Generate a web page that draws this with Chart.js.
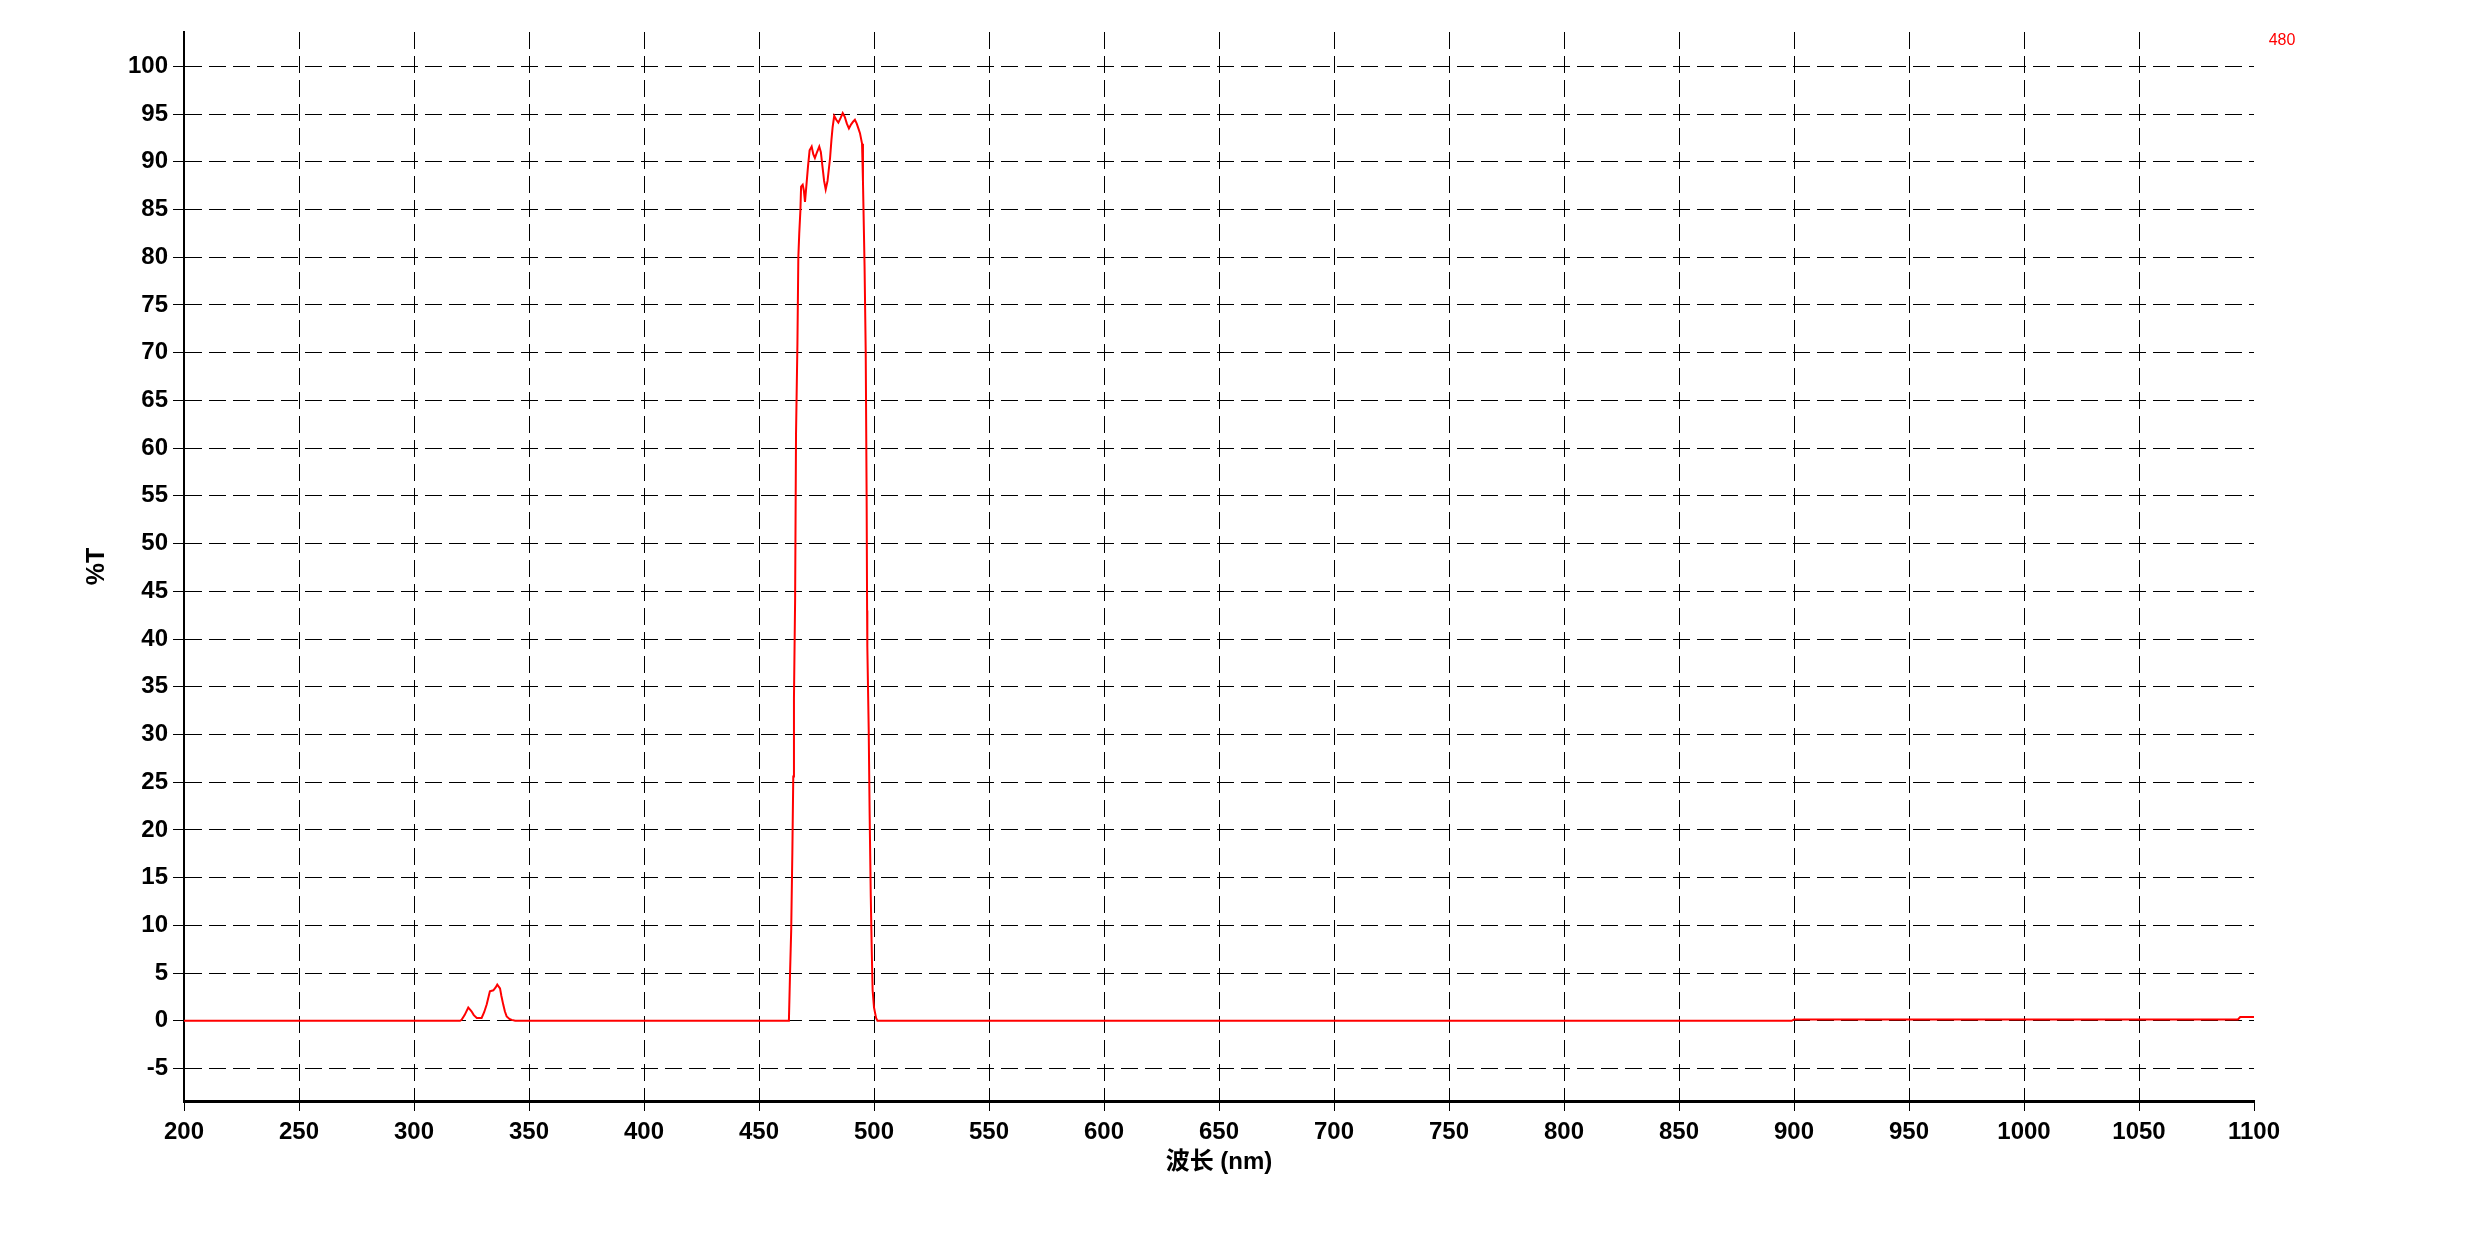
<!DOCTYPE html>
<html>
<head>
<meta charset="utf-8">
<script src="https://cdn.jsdelivr.net/npm/chart.js@4.4.0/dist/chart.umd.min.js"></script>
<style>
    body { margin: 0; background: #fff; }
    #wrap { width: 2467px; height: 1240px; position: relative; }
</style>
</head>
<body>
<div id="wrap"><canvas id="spectrum"></canvas></div>
<script>
// wavelength (nm) and transmission (%T)
const wavelengths = [
    200, 320, 320.7, 322, 323.6, 325, 326, 327.3, 329.4, 330.5, 331.6, 333, 334.5, 335.5, 336.2, 337.4,
    338, 338.8, 339.5, 340.3, 341.5, 342.5, 344,
    463, 463.5, 464.0, 464.5, 464.9, 465.2, 465.7, 466.1, 466.7, 467.1, 467.5, 468.0, 468.3,
    469, 469.5, 470, 470.6, 471.3, 472, 472.9, 473.6, 474.3, 475.2, 476.2, 476.9, 477.6, 478.3, 479,
    479.8, 480.9, 481.5, 482, 482.7, 483.6, 484.5, 485.5, 486.4, 487.3, 488.2, 489.1, 490, 490.9,
    491.7, 492.5, 493.2, 493.9, 494.8, 495.2, 495.9, 496.4, 496.8, 497.0, 497.1, 497.7, 498.1, 498.6,
    499.0, 499.4, 500.0, 500.9, 501.5,
    899, 900, 1093, 1094, 1100
];
const transmission = [
    0, 0, 0.1, 0.6, 1.4, 1.0, 0.6, 0.3, 0.3, 0.9, 1.7, 3.1, 3.2, 3.5, 3.8, 3.4,
    2.6, 1.7, 1.0, 0.45, 0.2, 0.1, 0,
    0, 5.0, 9.5, 17.6, 25.6, 33.8, 44.1, 61.5, 70.8, 80.0, 82.5, 84.9, 87.4,
    87.6, 87.0, 85.8, 87.5, 89.5, 91.2, 91.6, 90.8, 90.4, 91.0, 91.6, 91.0, 89.5, 88.0, 87.1,
    88.0, 90.4, 92.3, 93.6, 94.8, 94.4, 94.1, 94.6, 95.1, 94.7, 94.0, 93.5, 93.9, 94.2,
    94.4, 94.0, 93.5, 93.0, 91.9, 88.0, 79.0, 70.1, 54.8, 43.0, 39.2, 30.5, 21.7, 13.0,
    7.6, 3.2, 1.4, 0.3, 0,
    0, 0.15, 0.15, 0.4, 0.4
];
const yTicks = [-5, 0, 5, 10, 15, 20, 25, 30, 35, 40, 45, 50, 55, 60, 65, 70, 75, 80, 85, 90, 95, 100];
const xTitle = '波长 (nm)';
const yTitle = '%T';
const sampleName = '480';

const points = wavelengths.map((w, i) => ({ x: w, y: transmission[i] }));

const tickFont = { family: 'Arial, "Liberation Sans", sans-serif', size: 24, weight: 'bold' };

// axis titles and the sample tag, drawn after the chart
const titlesPlugin = {
    id: 'titles',
    afterDraw: (chart) => {
        const ctx = chart.ctx;
        const area = chart.chartArea;
        ctx.save();
        ctx.fillStyle = '#000';
        ctx.textAlign = 'center';
        ctx.textBaseline = 'middle';
        ctx.font = 'bold 24px Arial, "Liberation Sans", "Noto Sans CJK SC", sans-serif';
        ctx.fillText(xTitle, (area.left + area.right) / 2, 1162);

        ctx.translate(97, (area.top + area.bottom) / 2);
        ctx.rotate(-Math.PI / 2);
        ctx.font = 'bold 25px Arial, "Liberation Sans", sans-serif';
        ctx.fillText(yTitle, 0, 0);
        ctx.restore();

        ctx.save();
        ctx.fillStyle = '#ff0000';
        ctx.textAlign = 'center';
        ctx.textBaseline = 'middle';
        ctx.font = '16px Arial, "Liberation Sans", sans-serif';
        ctx.fillText(sampleName, 2282, 41);
        ctx.restore();
    }
};

new Chart('spectrum', {
    type: 'line',
    data: {
        datasets: [{
            data: points,
            borderColor: '#ff0000',
            borderWidth: 2,
            pointRadius: 0,
            tension: 0,
            fill: false
        }]
    },
    options: {
        responsive: true,
        maintainAspectRatio: false,
        animation: false,
        events: [],
        layout: {
            padding: { left: 0, top: 32, right: 213, bottom: 0 }
        },
        plugins: {
            legend: { display: false },
            tooltip: { enabled: false }
        },
        scales: {
            x: {
                type: 'linear',
                min: 200,
                max: 1100,
                afterFit: (scale) => { scale.height = 139; },
                ticks: {
                    stepSize: 50,
                    color: '#000',
                    font: tickFont,
                    padding: 7,
                    maxRotation: 0,
                    callback: (value) => String(value)
                },
                grid: {
                    color: (c) => (c.tick && c.tick.value === 1100) ? 'rgba(0,0,0,0)' : '#000',
                    lineWidth: 1,
                    tickLength: 10,
                    tickColor: '#000',
                    tickWidth: 1,
                    tickBorderDash: []
                },
                border: { display: true, color: '#000', width: 3, dash: [17, 7] }
            },
            y: {
                min: -8.4,
                max: 103.6,
                afterFit: (scale) => { scale.width = 184; },
                afterBuildTicks: (scale) => {
                    scale.ticks = yTicks.map(v => ({ value: v }));
                },
                ticks: {
                    color: '#000',
                    font: tickFont,
                    padding: 5,
                    callback: (value) => String(value)
                },
                grid: {
                    color: '#000',
                    lineWidth: 1,
                    tickLength: 11,
                    tickColor: '#000',
                    tickWidth: 1,
                    tickBorderDash: []
                },
                border: { display: true, color: '#000', width: 2, dash: [17, 7] }
            }
        }
    },
    plugins: [titlesPlugin]
});
</script>
</body>
</html>
